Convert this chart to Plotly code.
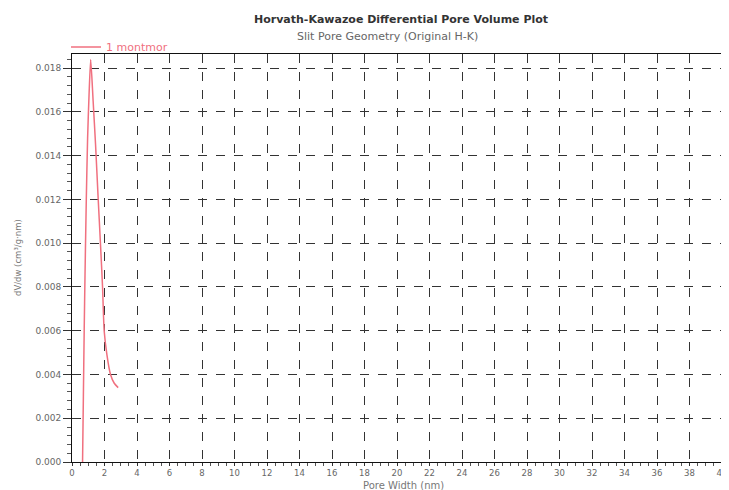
import plotly.graph_objects as go

pore_width = [0.65, 0.70, 0.75, 0.80, 0.88, 0.96, 1.05, 1.15, 1.30, 1.45, 1.60, 1.75, 1.88, 1.98, 2.15, 2.37, 2.60, 2.84]
dvdw = [0.0000, 0.0030, 0.0060, 0.0085, 0.0120, 0.0148, 0.0168, 0.0184, 0.0165, 0.0145, 0.0122, 0.0100, 0.0080, 0.0060, 0.0049, 0.0040, 0.0036, 0.0034]
series_name = "1 montmor"
x_ticks = list(range(0, 41, 2))
y_ticks = [0.000, 0.002, 0.004, 0.006, 0.008, 0.010, 0.012, 0.014, 0.016, 0.018]

FONT = "DejaVu Sans, Verdana, sans-serif"

# page body has an 8px margin, so the figure is drawn 8px in from the top-left
W, H = 721, 482
L, R, T, B = 64, 7, 46, 28
PW, PH = W - L - R, H - T - B


def px_x(x):
    return (x - 8 - L) / PW


def px_y(y):
    return (H - B - (y - 8)) / PH


fig = go.Figure()
fig.add_trace(go.Scatter(
    x=pore_width, y=dvdw, mode="lines", name=series_name,
    line=dict(color="#f0707f", width=1.5, shape="spline", smoothing=0.6),
))

fig.update_layout(
    width=W, height=H,
    margin=dict(l=L, r=R, t=T, b=B, autoexpand=False),
    paper_bgcolor="white", plot_bgcolor="white",
    font=dict(family=FONT, size=10, color="#666666"),
    title=dict(
        text="<b>Horvath-Kawazoe Differential Pore Volume Plot</b>",
        x=px_x(401), xanchor="center", y=1 - 11 / H, yanchor="middle",
        xref="paper",
        font=dict(family=FONT, size=11, color="#333333"),
    ),
    annotations=[
        dict(text="Slit Pore Geometry (Original H-K)", xref="paper", yref="paper",
             x=px_x(387), xanchor="center", y=px_y(37), yanchor="middle", showarrow=False,
             font=dict(family=FONT, size=11, color="#666666")),
        dict(text="Pore Width (nm)", xref="paper", yref="paper",
             x=px_x(403), xanchor="center", y=px_y(485), yanchor="middle", showarrow=False,
             font=dict(family=FONT, size=10, color="#777777")),
        dict(text="dV/dw (cm³/g·nm)", xref="paper", yref="paper", textangle=-90,
             x=px_x(18), xanchor="center", y=px_y(258), yanchor="middle", showarrow=False,
             font=dict(family=FONT, size=8.5, color="#777777")),
    ],
    showlegend=True,
    legend=dict(x=px_x(66), xanchor="left", y=px_y(47), yanchor="middle", orientation="h",
                font=dict(family=FONT, size=11, color="#f0707f"), bgcolor="rgba(0,0,0,0)",
                itemwidth=30),
)

fig.update_xaxes(
    range=[0, 40], tickvals=x_ticks, ticktext=[str(v) for v in x_ticks],
    showgrid=True, gridcolor="#333333", griddash="dash", gridwidth=1,
    showline=True, linecolor="#111111", linewidth=1, mirror=True,
    ticks="outside", ticklen=3, tickcolor="#333333",
    minor=dict(dtick=0.5, ticks="outside", ticklen=3, tickcolor="#555555", showgrid=False),
    tickfont=dict(size=8.5, color="#666666"), zeroline=False, automargin=False,
)
fig.update_yaxes(
    range=[0, 0.01865], tickvals=y_ticks, ticktext=[f"{v:.3f}" for v in y_ticks],
    showgrid=True, gridcolor="#333333", griddash="dash", gridwidth=1,
    showline=True, linecolor="#111111", linewidth=1, mirror=True,
    ticks="outside", ticklen=8, tickcolor="#333333",
    minor=dict(dtick=0.0004, ticks="outside", ticklen=4, tickcolor="#555555", showgrid=False),
    tickfont=dict(size=9, color="#666666"), zeroline=False, automargin=False,
)

fig.write_html("out.html")
